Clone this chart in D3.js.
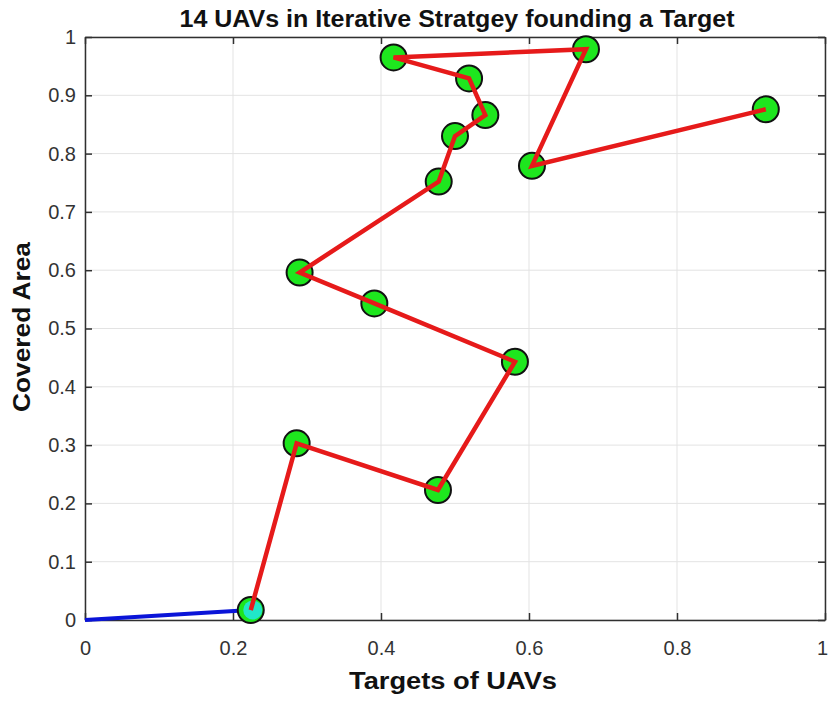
<!DOCTYPE html>
<html><head><meta charset="utf-8">
<script src="https://cdn.jsdelivr.net/npm/d3@7"></script>
<style>body{margin:0;background:#fff}svg{display:block}</style>
</head><body>
<script>
const xs = [0.224, 0.286, 0.477, 0.581, 0.391, 0.290, 0.478, 0.500, 0.541, 0.519, 0.417, 0.677, 0.604, 0.920];
const ys = [0.017, 0.303, 0.223, 0.443, 0.543, 0.596, 0.752, 0.830, 0.866, 0.929, 0.965, 0.979, 0.779, 0.876];
const startPoint = [0, 0];
const xTicks = [0, 0.2, 0.4, 0.6, 0.8, 1];
const yTicks = [0, 0.1, 0.2, 0.3, 0.4, 0.5, 0.6, 0.7, 0.8, 0.9, 1];
const titleText = "14 UAVs in Iterative Stratgey founding a Target";
const xLabel = "Targets of UAVs";
const yLabel = "Covered Area";

const W = 828, H = 701;
const m = {left: 85, right: 3, top: 37, bottom: 81};
const svg = d3.select("body").append("svg").attr("width", W).attr("height", H);
const x = d3.scaleLinear().domain([0, 1]).range([m.left, W - m.right]);
const y = d3.scaleLinear().domain([0, 1]).range([H - m.bottom, m.top]);
const font = "'Liberation Sans', Arial, sans-serif";

// grid
svg.append("g").selectAll("line").data(xTicks).join("line")
  .attr("x1", d => x(d)).attr("x2", d => x(d)).attr("y1", y(0)).attr("y2", y(1))
  .attr("stroke", "#e3e3e3").attr("stroke-width", 1);
svg.append("g").selectAll("line").data(yTicks).join("line")
  .attr("y1", d => y(d)).attr("y2", d => y(d)).attr("x1", x(0)).attr("x2", x(1))
  .attr("stroke", "#e3e3e3").attr("stroke-width", 1);

// axes
const ax = d3.axisBottom(x).tickValues(xTicks).tickFormat(d3.format("")).tickSizeInner(-7).tickSizeOuter(0).tickPadding(21);
const ay = d3.axisLeft(y).tickValues(yTicks).tickFormat(d3.format("")).tickSizeInner(-7).tickSizeOuter(0).tickPadding(9);
const gx = svg.append("g").attr("transform", `translate(0,${y(0)})`).call(ax);
const gy = svg.append("g").attr("transform", `translate(${x(0)},0)`).call(ay);
svg.append("g").attr("transform", `translate(0,${y(1)})`).call(d3.axisTop(x).tickValues(xTicks).tickFormat("").tickSizeInner(-7).tickSizeOuter(0));
svg.append("g").attr("transform", `translate(${x(1)},0)`).call(d3.axisRight(y).tickValues(yTicks).tickFormat("").tickSizeInner(-7).tickSizeOuter(0));
svg.selectAll(".domain, .tick line").attr("stroke", "#303030").attr("stroke-width", 1.5);
svg.selectAll(".tick text").attr("font-family", font).attr("font-size", 20).attr("fill", "#333");
gx.selectAll(".tick text").filter(d => d === 1).attr("dx", -3);

// blue start segment
const line = d3.line().x(d => x(d[0])).y(d => y(d[1]));
svg.append("path").attr("d", line([startPoint, [xs[0], ys[0]]]))
  .attr("fill", "none").attr("stroke", "#0a14d8").attr("stroke-width", 4);

// markers
const pts = xs.map((v, i) => [v, ys[i]]);
svg.append("g").selectAll("circle").data(pts).join("circle")
  .attr("cx", d => x(d[0])).attr("cy", d => y(d[1])).attr("r", 13)
  .attr("fill", "#1ee61e").attr("stroke", "#111").attr("stroke-width", 2);
// cyan overlay on first marker
svg.append("circle").attr("cx", x(xs[0]) + 2).attr("cy", y(ys[0])).attr("r", 9.5)
  .attr("fill", "#22e6e6").attr("opacity", 0.85);

// red path
svg.append("path").attr("d", line(pts))
  .attr("fill", "none").attr("stroke", "#e61a1a").attr("stroke-width", 4.5)
  .attr("stroke-linejoin", "miter");

// texts
svg.append("text").attr("x", 457).attr("y", 27).attr("text-anchor", "middle")
  .attr("font-family", font).attr("font-weight", "bold").attr("font-size", 23)
  .attr("textLength", 555).attr("lengthAdjust", "spacingAndGlyphs").attr("fill", "#111").text(titleText);
svg.append("text").attr("x", 453).attr("y", 689).attr("text-anchor", "middle")
  .attr("font-family", font).attr("font-weight", "bold").attr("font-size", 23)
  .attr("textLength", 208).attr("lengthAdjust", "spacingAndGlyphs").attr("fill", "#111").text(xLabel);
svg.append("text").attr("transform", "translate(30,327) rotate(-90)").attr("text-anchor", "middle")
  .attr("font-family", font).attr("font-weight", "bold").attr("font-size", 23)
  .attr("textLength", 170).attr("lengthAdjust", "spacingAndGlyphs").attr("fill", "#111").text(yLabel);
</script>
</body></html>
